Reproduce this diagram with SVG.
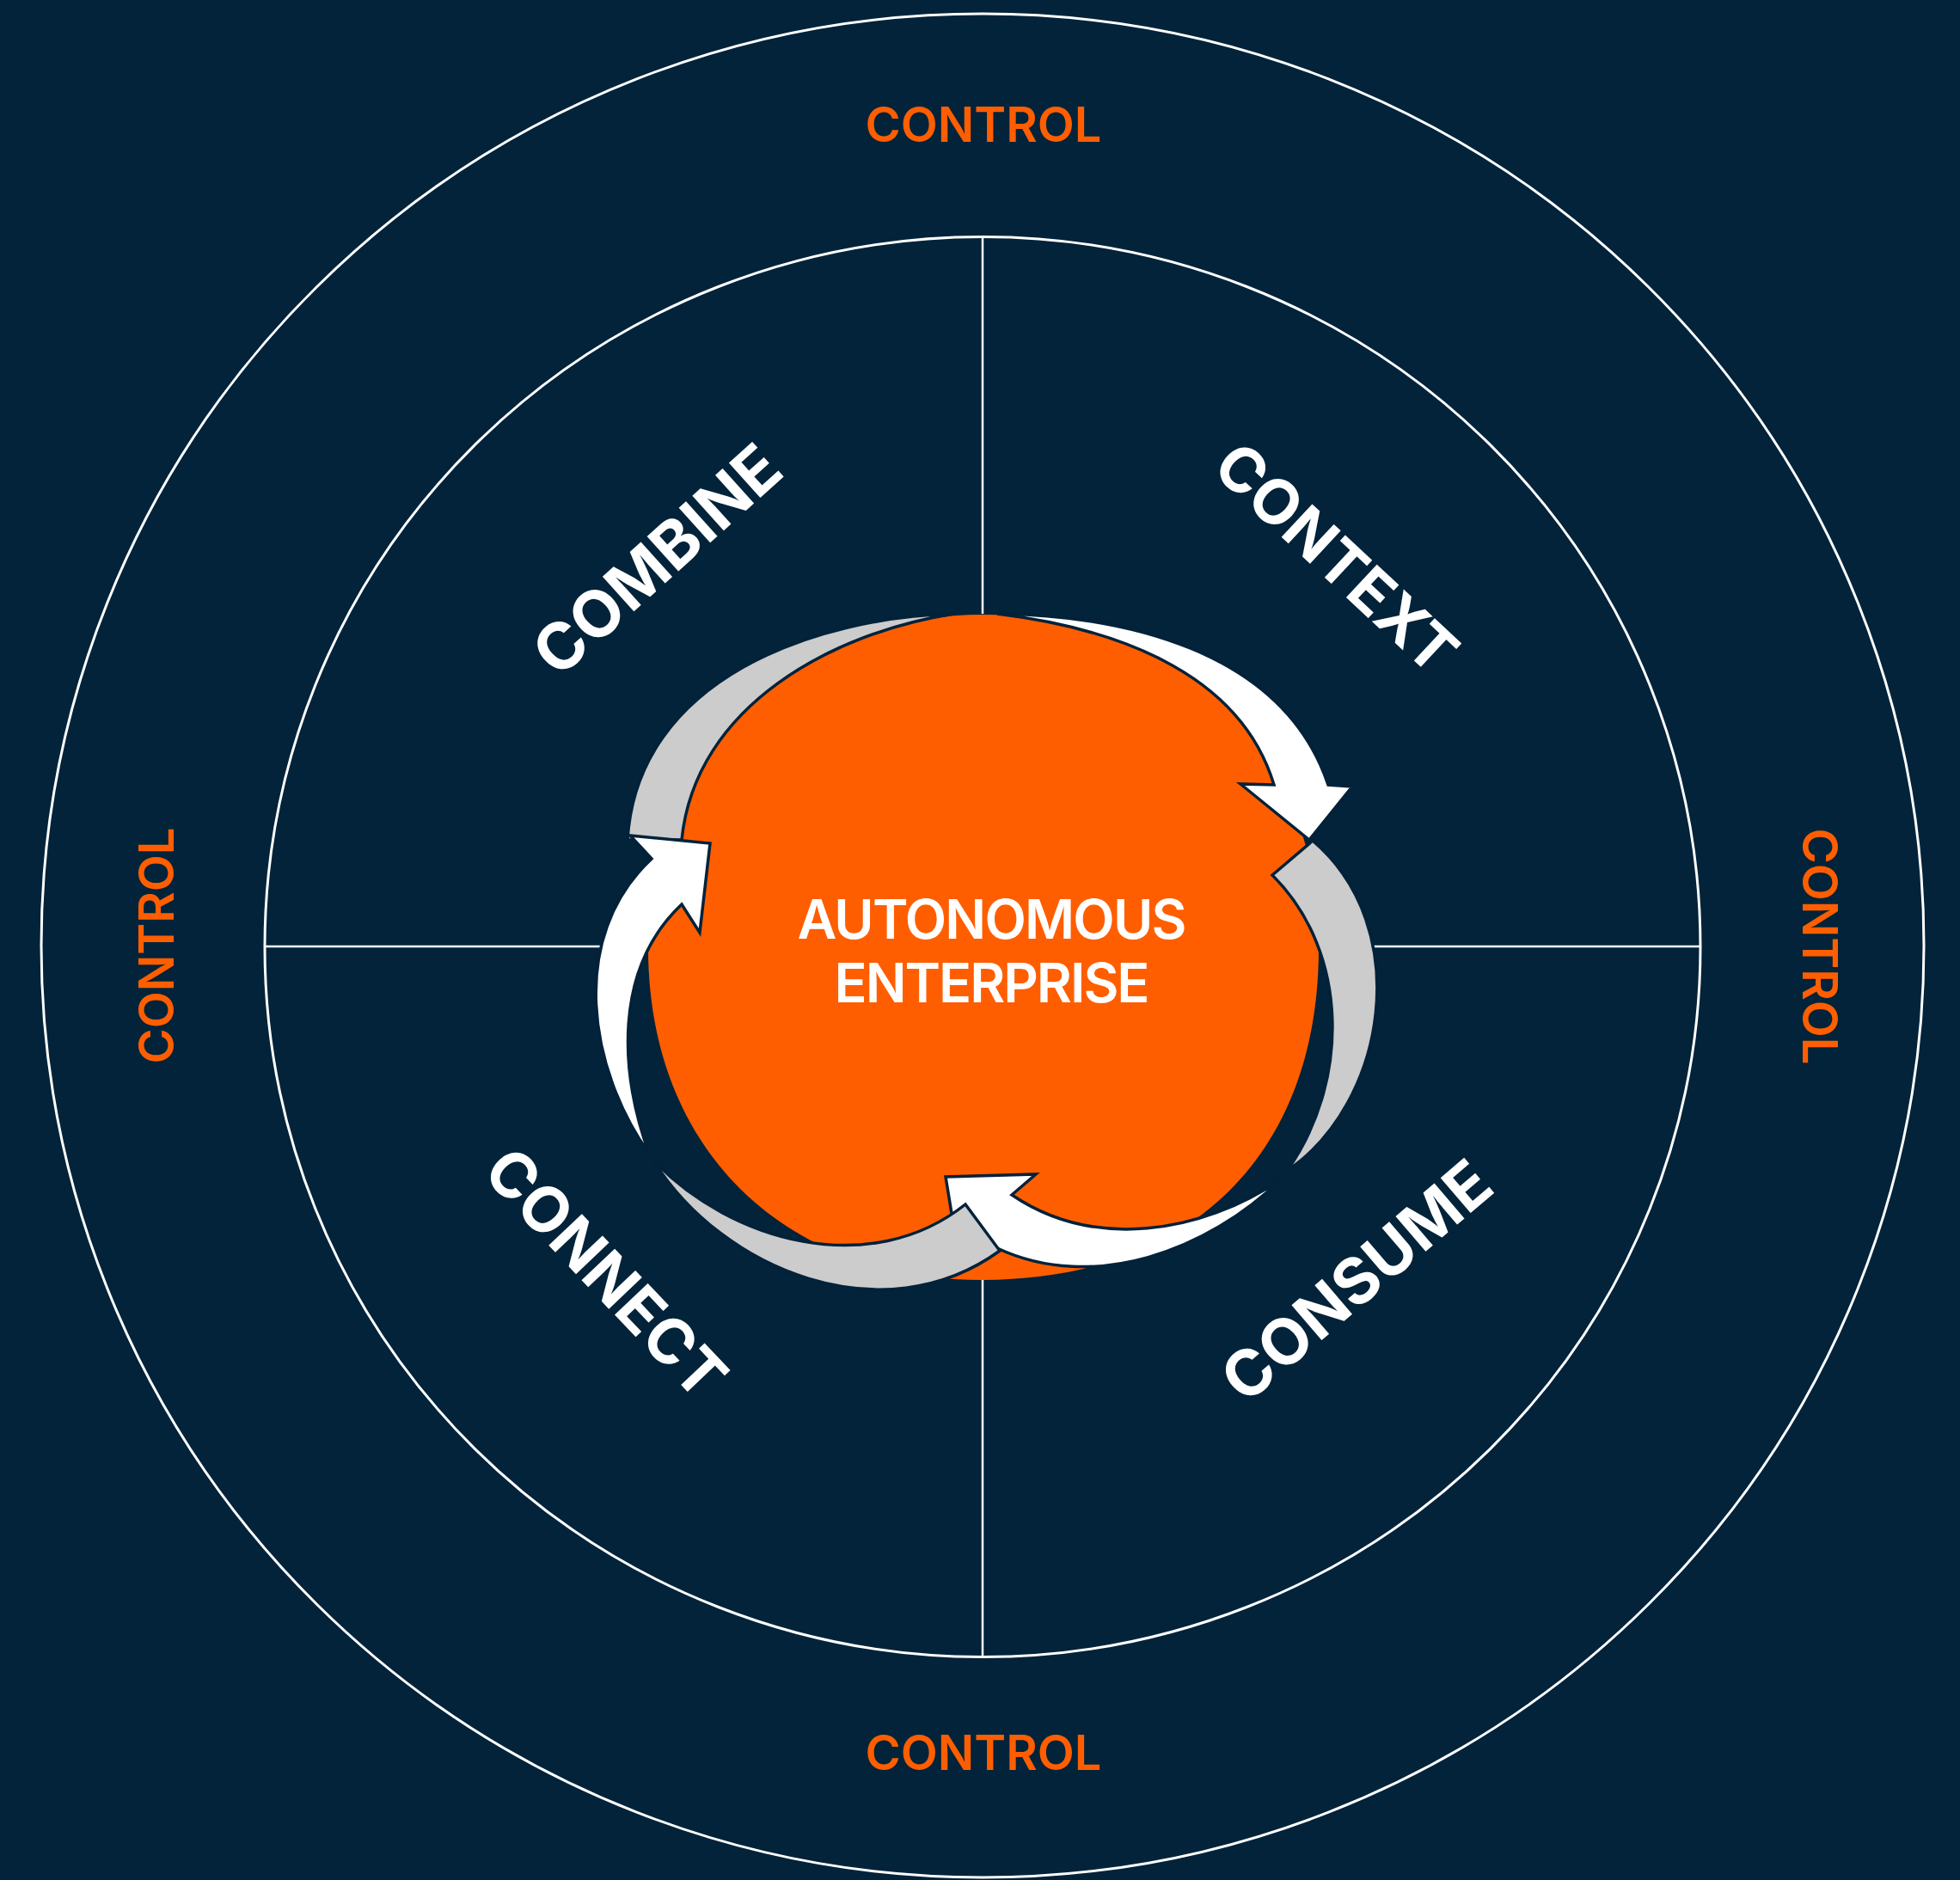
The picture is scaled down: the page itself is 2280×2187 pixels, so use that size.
<svg xmlns="http://www.w3.org/2000/svg" width="2280" height="2187" viewBox="0 0 2280 2187">
<style>
.ring{fill:none;stroke:#ffffff;stroke-width:3}
.axis{stroke:#ffffff;stroke-width:2.5}
.ctl{font-family:Inter,"Liberation Sans",sans-serif;font-weight:600;font-size:56px;fill:#FF5E00;text-anchor:middle}
.lbl{font-family:Inter,"Liberation Sans",sans-serif;font-weight:700;font-size:75px;fill:#ffffff;text-anchor:middle}
.core{font-family:Inter,"Liberation Sans",sans-serif;font-weight:600;font-size:63px;fill:#ffffff;text-anchor:middle}
.gray{fill:#CCCCCC;stroke:#03223A;stroke-width:3.5;stroke-linejoin:miter}
.white{fill:#ffffff;stroke:#03223A;stroke-width:3.5;stroke-linejoin:miter}
</style>
<rect width="2280" height="2187" fill="#02233A"/>
<g id="rings">
<ellipse class="ring" cx="1143" cy="1100" rx="1095" ry="1084"/>
<ellipse class="ring" cx="1143" cy="1101.5" rx="835" ry="826"/>
</g>
<g id="connectors">
<line class="axis" x1="1143" y1="275" x2="1143" y2="714"/>
<line class="axis" x1="1143" y1="1489" x2="1143" y2="1928"/>
<line class="axis" x1="308" y1="1101" x2="700" y2="1101"/>
<line class="axis" x1="1596" y1="1101" x2="1978" y2="1101"/>
</g>
<g id="control-labels">
<text class="ctl" x="1144" y="165">CONTROL</text>
<text class="ctl" x="1144" y="2059">CONTROL</text>
<text class="ctl" transform="translate(202,1100) rotate(-90)" x="0" y="0">CONTROL</text>
<text class="ctl" transform="translate(2097,1101) rotate(90)" x="0" y="0">CONTROL</text>
</g>
<g id="quadrant-labels">
<text class="lbl" transform="translate(782,671) rotate(-42)">COMBINE</text>
<text class="lbl" transform="translate(1537,668) rotate(43)" style="font-size:72px">CONTEXT</text>
<text class="lbl" transform="translate(686,1499) rotate(46.5)" style="font-size:73px">CONNECT</text>
<text class="lbl" transform="translate(1595,1510) rotate(-40.5)" style="font-size:74px">CONSUME</text>
</g>
<g id="core">
<path fill="#FF5E00" d="M1143,715 C1377.6,715 1534,870.2 1534,1103 C1534,1342.3 1385.4,1489 1143,1489 C909.6,1489 754,1334.6 754,1103 C754,885.7 925.2,715 1143,715 Z"/>
</g>
<g id="arrow-combine">
<path class="gray" d="M1110,714 C950.3,717.7 741.2,788.8 730,977 L793,977 C808.7,820.3 969.8,735.7 1110,714 Z"/>
</g>
<g id="arrow-connect-up">
<path class="white" d="M755,1342 C685.5,1244.2 659.5,1090.8 758,999 L733,972 L826,981 L814,1085 L793,1052 C712.8,1127.7 721.2,1248.3 755,1342 Z"/>
</g>
<g id="arrow-context">
<path class="white" d="M1160,714 C1301.8,715.8 1491.7,753.7 1545,913 L1573,915 L1523,977 L1443,912 L1482,913 C1440.7,776.2 1285.3,729.3 1160,714 Z"/>
</g>
<g id="arrow-right">
<path class="gray" d="M1527,978 L1480,1018 C1571.2,1108.7 1569.3,1260.8 1497,1362 C1613.5,1283.5 1646,1079 1527,978 Z"/>
</g>
<g id="arrow-consume">
<path class="white" d="M1490,1372 C1405.5,1454.2 1273,1504.8 1160,1452 L1110,1430 L1100,1369 L1205,1366 L1177,1390 C1272.3,1454.5 1397.7,1435 1490,1372 Z"/>
</g>
<g id="arrow-connect">
<path class="gray" d="M760,1350 C840.3,1478 1027.2,1553.5 1163,1455 L1123,1401 C1012.5,1489 851,1445 760,1350 Z"/>
</g>
<g id="core-text">
<text class="core" x="1154" y="1092" textLength="453">AUTONOMOUS</text>
<text class="core" x="1154" y="1166" textLength="367">ENTERPRISE</text>
</g>
</svg>
